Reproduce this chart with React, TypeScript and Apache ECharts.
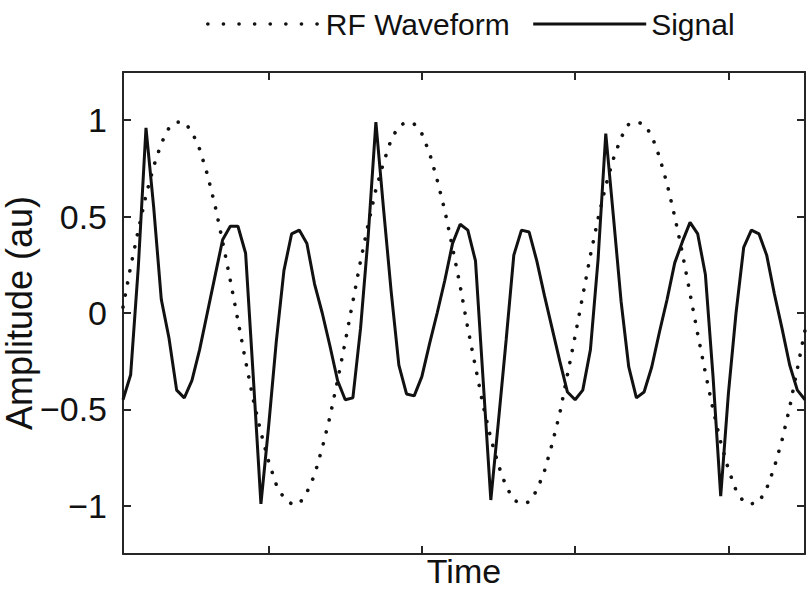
import React, { useEffect, useRef } from "react";
import * as echarts from "echarts";

const signal: number[] = [
  -0.45, -0.32, 0.24, 0.96, 0.55, 0.07, -0.13, -0.40, -0.44, -0.35,
  -0.19, 0.00, 0.19, 0.38, 0.45, 0.45, 0.31, -0.33, -0.99, -0.59,
  -0.15, 0.22, 0.41, 0.43, 0.36, 0.15, 0.00, -0.17, -0.35, -0.45,
  -0.44, -0.08, 0.40, 0.99, 0.54, 0.11, -0.27, -0.42, -0.43, -0.33,
  -0.16, 0.00, 0.17, 0.36, 0.46, 0.43, 0.27, -0.35, -0.97, -0.56,
  -0.14, 0.30, 0.43, 0.42, 0.27, 0.09, -0.08, -0.25, -0.41, -0.45,
  -0.40, -0.19, 0.28, 0.93, 0.50, 0.06, -0.28, -0.44, -0.41, -0.28,
  -0.10, 0.07, 0.26, 0.37, 0.47, 0.41, 0.20, -0.33, -0.95, -0.42,
  0.00, 0.34, 0.43, 0.41, 0.30, 0.10, -0.08, -0.27, -0.40, -0.45,
];

const rfWaveform: number[] = [
  0.03, 0.24, 0.43, 0.61, 0.76, 0.88, 0.96, 0.99, 0.99, 0.94,
  0.85, 0.72, 0.56, 0.37, 0.17, -0.04, -0.25, -0.45, -0.62, -0.77,
  -0.89, -0.96, -0.99, -0.99, -0.93, -0.84, -0.70, -0.54, -0.35, -0.15,
  0.06, 0.27, 0.46, 0.64, 0.78, 0.90, 0.97, 0.99, 0.98, 0.93,
  0.83, 0.69, 0.53, 0.34, 0.14, -0.08, -0.28, -0.48, -0.65, -0.79,
  -0.90, -0.97, -0.99, -0.98, -0.92, -0.82, -0.68, -0.52, -0.32, -0.12,
  0.09, 0.30, 0.49, 0.66, 0.80, 0.91, 0.98, 0.99, 0.98, 0.92,
  0.81, 0.67, 0.50, 0.31, 0.10, -0.11, -0.31, -0.50, -0.67, -0.81,
  -0.92, -0.98, -0.99, -0.98, -0.91, -0.80, -0.66, -0.49, -0.29, -0.09,
];

const xTicks: number[] = [20, 40, 60, 80];
const yTicks: number[] = [-1, -0.5, 0, 0.5, 1];
const seriesNames: string[] = ["RF Waveform", "Signal"];

const FONT = "'Liberation Sans', Arial, Helvetica, sans-serif";
const AX = "#262626";

export default function App() {
  const ref = useRef<HTMLDivElement>(null);
  useEffect(() => {
    document.body.style.margin = "0";
    const chart = echarts.init(ref.current!, undefined, { renderer: "svg" });
    const toPairs = (arr: number[]) => arr.map((v, i) => [i + 1, v]);
    const axisLineStyle = { color: AX, width: 2 };
    const xBase = {
      type: "value",
      min: 1,
      max: 90,
      axisLine: { show: true, onZero: false, lineStyle: axisLineStyle },
      axisTick: { show: true, inside: true, length: 8, customValues: xTicks, lineStyle: axisLineStyle },
      axisLabel: { show: false },
      splitLine: { show: false },
    };
    const yBase = {
      type: "value",
      min: -1.25,
      max: 1.25,
      axisLine: { show: true, onZero: false, lineStyle: axisLineStyle },
      axisTick: { show: true, inside: true, length: 8, customValues: yTicks, lineStyle: axisLineStyle },
      splitLine: { show: false },
    };
    chart.setOption({
      animation: false,
      backgroundColor: "#ffffff",
      grid: { left: 123, right: 5, top: 72, bottom: 35, containLabel: false, outerBoundsMode: "none" },
      legend: {
        left: 201,
        top: 4,
        itemWidth: 113,
        itemHeight: 14,
        itemGap: 22,
        data: [
          { name: seriesNames[0], itemStyle: { opacity: 0 }, lineStyle: { width: 3.6, type: [0.1, 15.5], cap: "round", color: "#111" } },
          { name: seriesNames[1], itemStyle: { opacity: 0 }, lineStyle: { width: 3, color: "#111" } },
        ],
        itemStyle: { opacity: 0 },
        textStyle: { fontSize: 30, fontFamily: FONT, color: "#111", lineHeight: 22 },
      },
      xAxis: [
        {
          ...xBase,
          position: "bottom",
          name: "Time",
          nameLocation: "middle",
          nameGap: 2,
          nameMoveOverlap: false,
          nameTextStyle: { fontSize: 34, fontFamily: FONT, color: "#111", verticalAlign: "top", lineHeight: 30 },
        },
        { ...xBase, position: "top" },
      ],
      yAxis: [
        {
          ...yBase,
          position: "left",
          axisLabel: {
            show: true,
            customValues: yTicks,
            fontSize: 34,
            fontFamily: FONT,
            color: "#111",
            margin: 16,
            formatter: (v: number) => String(v).replace("-", "\u2212"),
          },
          name: "Amplitude (au)",
          nameLocation: "middle",
          nameGap: 86,
          nameMoveOverlap: false,
          nameRotate: 90,
          nameTextStyle: { fontSize: 36, fontFamily: FONT, color: "#111", lineHeight: 36 },
        },
        { ...yBase, position: "right", axisLabel: { show: false } },
      ],
      series: [
        {
          name: seriesNames[0],
          type: "line",
          data: toPairs(rfWaveform),
          symbol: "none",
          lineStyle: { color: "#111", width: 3.6, type: [0.1, 12.2], cap: "round" },
          itemStyle: { color: "#111" },
          z: 2,
        },
        {
          name: seriesNames[1],
          type: "line",
          data: toPairs(signal),
          symbol: "none",
          lineStyle: { color: "#111", width: 3 },
          itemStyle: { color: "#111" },
          z: 3,
        },
      ],
    });
    return () => chart.dispose();
  }, []);
  return <div ref={ref} style={{ width: 810, height: 589 }} />;
}
